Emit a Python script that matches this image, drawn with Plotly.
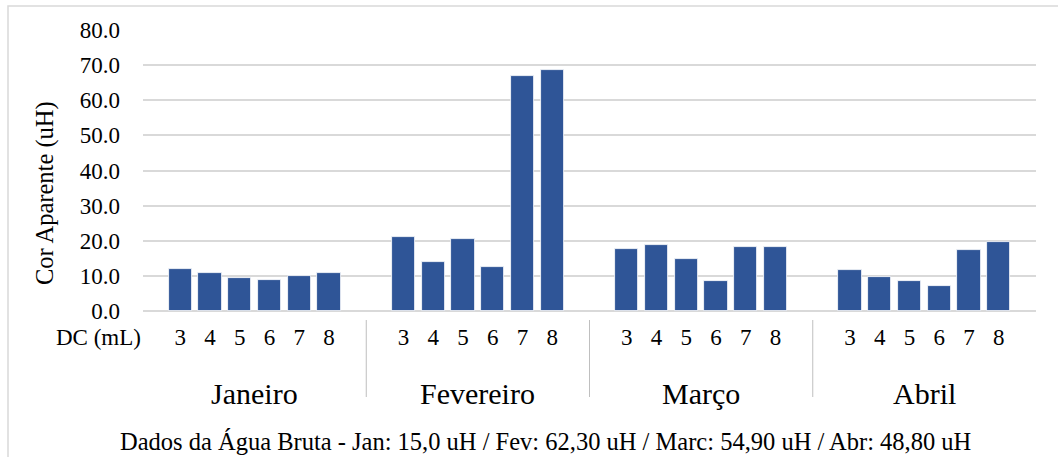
import plotly.graph_objects as go

months = ["Janeiro", "Fevereiro", "Março", "Abril"]
dc_labels = ["3", "4", "5", "6", "7", "8"]
jan = [11.9, 10.7, 9.5, 8.8, 10.1, 10.8]
fev = [21.0, 14.0, 20.4, 12.6, 66.9, 68.5]
mar = [17.7, 18.9, 14.7, 8.5, 18.3, 18.3]
abr = [11.7, 9.6, 8.5, 7.0, 17.3, 19.7]
series = [jan, fev, mar, abr]
y_ticks = [0, 10, 20, 30, 40, 50, 60, 70, 80]
footer = "Dados da Água Bruta - Jan: 15,0 uH / Fev: 62,30 uH / Marc: 54,90 uH / Abr: 48,80 uH"

W, H = 1058, 457
L, R, T, B = 143, 22, 30, 146
PW, PH = W - L - R, H - T - B
GROUP = 7.5
OFFSET = 1.25

def px_x(px):
    return (px - L) / PW

def px_y(py):
    return (H - B - py) / PH

xs, ys, tickvals, ticktext = [], [], [], []
for g, vals in enumerate(series):
    for i, v in enumerate(vals):
        pos = g * GROUP + OFFSET + i
        xs.append(pos)
        ys.append(v)
        tickvals.append(pos)
        ticktext.append(dc_labels[i])

FONT = "Liberation Serif, Times New Roman, serif"

fig = go.Figure()
fig.add_trace(go.Bar(
    x=xs, y=ys, width=0.78,
    marker=dict(color="#2F5597", line=dict(color="#ffffff", width=0.8)),
    showlegend=False, hoverinfo="skip",
))

shapes = [dict(type="rect", xref="paper", yref="paper",
               x0=px_x(8), x1=px_x(1075), y0=px_y(6), y1=px_y(480),
               line=dict(color="#d9d9d9", width=1.5), fillcolor="rgba(0,0,0,0)", layer="below")]
for g in range(1, len(months)):
    shapes.append(dict(type="line", xref="x", yref="paper",
                       x0=g * GROUP, x1=g * GROUP, y0=px_y(320), y1=px_y(397),
                       line=dict(color="#bfbfbf", width=1)))

annotations = []
for g, m in enumerate(months):
    annotations.append(dict(text=m, xref="x", yref="paper", x=g * GROUP + GROUP / 2,
                            y=px_y(393), showarrow=False, xanchor="center", yanchor="middle",
                            font=dict(family=FONT, size=30, color="#000000")))
annotations.append(dict(text="DC (mL)", xref="paper", yref="paper", x=px_x(98), y=px_y(337),
                        showarrow=False, xanchor="center", yanchor="middle",
                        font=dict(family=FONT, size=23, color="#000000")))
annotations.append(dict(text="Cor Aparente (uH)", xref="paper", yref="paper", x=px_x(45), y=px_y(193),
                        showarrow=False, xanchor="center", yanchor="middle", textangle=-90,
                        font=dict(family=FONT, size=24.5, color="#000000")))
annotations.append(dict(text=footer, xref="paper", yref="paper", x=px_x(545), y=px_y(441),
                        showarrow=False, xanchor="center", yanchor="middle",
                        font=dict(family=FONT, size=24.5, color="#000000")))

fig.update_layout(
    width=W, height=H,
    margin=dict(l=L, r=R, t=T, b=B),
    paper_bgcolor="white", plot_bgcolor="white",
    shapes=shapes, annotations=annotations,
    font=dict(family=FONT, size=23, color="#000000"),
    bargap=0,
)
fig.update_xaxes(range=[0, GROUP * len(months)], tickvals=tickvals, ticktext=ticktext,
                 showgrid=False, zeroline=False, showline=False, ticks="",
                 ticklabelstandoff=10, tickfont=dict(family=FONT, size=23, color="#000000"))
fig.update_yaxes(range=[0, 80], tickvals=y_ticks, tickformat=".1f",
                 showgrid=True, gridcolor="#d9d9d9", gridwidth=1.5,
                 zeroline=True, zerolinecolor="#d9d9d9", zerolinewidth=1.5,
                 showline=False, ticks="", ticklabelstandoff=22,
                 tickfont=dict(family=FONT, size=23, color="#000000"))

fig.write_html("out.html", config={"displayModeBar": False},
               post_script="document.body.style.margin='0';document.body.style.overflow='hidden';")
